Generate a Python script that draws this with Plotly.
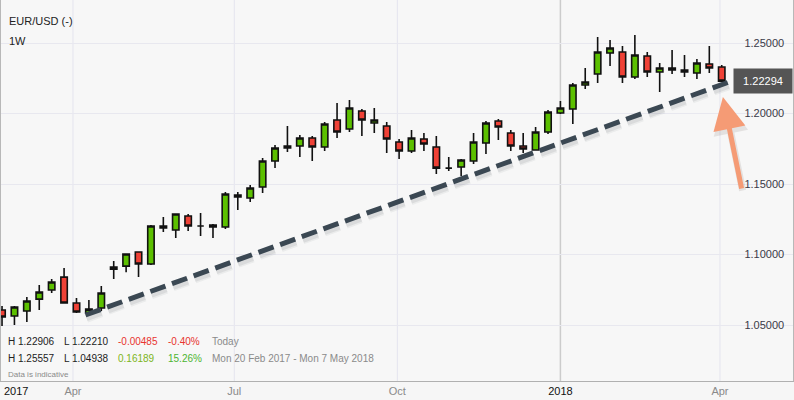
import pandas as pd
import plotly.graph_objects as go

# ---- data (weekly EUR/USD candles) ----
week_start = "2017-02-20"
n_weeks = 59
opens = [1.0606, 1.0564, 1.0599, 1.0684, 1.0748, 1.0840, 1.0656, 1.0585, 1.0621, 1.0911,
         1.0918, 1.1018, 1.0933, 1.1202, 1.1174, 1.1273, 1.1202, 1.1209, 1.1195, 1.1422,
         1.1401, 1.1479, 1.1663, 1.1755, 1.1770, 1.1826, 1.1762, 1.1954, 1.1890, 1.2018,
         1.1933, 1.1911, 1.1798, 1.1734, 1.1819, 1.1762, 1.1613, 1.1621, 1.1663, 1.1791,
         1.1947, 1.1862, 1.1770, 1.1741, 1.1869, 1.2004, 1.2032, 1.2202, 1.2280, 1.2429,
         1.2436, 1.2259, 1.2408, 1.2294, 1.2323, 1.2309, 1.2287, 1.2351, 1.2330]
highs = [1.0635, 1.0635, 1.0699, 1.0784, 1.0826, 1.0904, 1.0691, 1.0677, 1.0777, 1.0954,
         1.1004, 1.1018, 1.1209, 1.1266, 1.1287, 1.1287, 1.1294, 1.1216, 1.1443, 1.1443,
         1.1493, 1.1684, 1.1777, 1.1911, 1.1848, 1.1840, 1.1940, 1.2074, 1.2096, 1.2032,
         1.2039, 1.1940, 1.1819, 1.1883, 1.1862, 1.1840, 1.1691, 1.1677, 1.1862, 1.1947,
         1.1961, 1.1883, 1.1862, 1.1904, 1.2025, 1.2089, 1.2216, 1.2323, 1.2543, 1.2521,
         1.2479, 1.2557, 1.2436, 1.2358, 1.2450, 1.2415, 1.2387, 1.2479, 1.2344]
lows = [1.0493, 1.0500, 1.0521, 1.0606, 1.0727, 1.0656, 1.0585, 1.0578, 1.0599, 1.0826,
        1.0875, 1.0840, 1.0926, 1.1160, 1.1117, 1.1167, 1.1131, 1.1117, 1.1181, 1.1316,
        1.1372, 1.1436, 1.1613, 1.1727, 1.1691, 1.1663, 1.1734, 1.1826, 1.1869, 1.1840,
        1.1862, 1.1720, 1.1677, 1.1720, 1.1734, 1.1571, 1.1592, 1.1557, 1.1642, 1.1713,
        1.1812, 1.1734, 1.1720, 1.1741, 1.1855, 1.1996, 1.1926, 1.2174, 1.2216, 1.2337,
        1.2216, 1.2245, 1.2259, 1.2152, 1.2280, 1.2259, 1.2245, 1.2287, 1.2223]
closes = [1.0557, 1.0628, 1.0670, 1.0734, 1.0805, 1.0656, 1.0592, 1.0613, 1.0727, 1.0896,
          1.1004, 1.0933, 1.1202, 1.1188, 1.1287, 1.1202, 1.1202, 1.1195, 1.1429, 1.1408,
          1.1472, 1.1663, 1.1755, 1.1770, 1.1826, 1.1762, 1.1926, 1.1869, 1.2039, 1.1954,
          1.1954, 1.1819, 1.1734, 1.1826, 1.1784, 1.1613, 1.1613, 1.1670, 1.1798, 1.1933,
          1.1904, 1.1770, 1.1748, 1.1869, 1.2011, 1.2039, 1.2202, 1.2223, 1.2436, 1.2465,
          1.2259, 1.2415, 1.2294, 1.2323, 1.2309, 1.2294, 1.2358, 1.2323, 1.22294]

last_price = 1.22294
y_ticks = [1.05, 1.10, 1.15, 1.20, 1.25]
y_tick_labels = ["1.05000", "1.10000", "1.15000", "1.20000", "1.25000"]
x_tick_dates = ["2017-02-28", "2017-04-01", "2017-07-01", "2017-10-01", "2018-01-01", "2018-04-01"]
x_tick_labels = ["2017", "Apr", "Jul", "Oct", "2018", "Apr"]
x_tick_is_year = [True, False, False, False, True, False]
grid_dates = ["2017-04-01", "2017-07-01", "2017-10-01", "2018-04-01"]
year_line_date = "2018-01-01"

trend_dates = ["2017-04-08 02:00", "2018-04-07 14:00"]
trend_values = [1.0571, 1.2230]
arrow_head = ("2018-04-02 16:00", 1.2117)

x_range = ["2017-02-19 10:00", "2018-05-12 05:00"]
y_range = [1.0103, 1.2805]

info_rows = [
    ["H 1.22906", "L 1.22210", "-0.00485", "-0.40%", "Today"],
    ["H 1.25557", "L 1.04938", "0.16189", "15.26%", "Mon 20 Feb 2017 - Mon 7 May 2018"],
]
info_colors = [
    ["#222222", "#222222", "#e8342f", "#e8342f", "#8a8a8a"],
    ["#222222", "#222222", "#7db51a", "#4cb531", "#8a8a8a"],
]
info_x_px = [6, 62, 116, 166, 210]

dates = pd.date_range(week_start, periods=n_weeks, freq="7D")

FONT = "Liberation Sans, Arial, Helvetica, sans-serif"
W, H = 794, 400
ML, MR, MT, MB = 1, 1, 0, 19
PW = W - ML - MR

fig = go.Figure()

# trend line soft shadow + trend line
shadow_off = 0.0019
for w, a in [(10, 0.05), (7, 0.08)]:
    fig.add_trace(go.Scatter(
        x=pd.to_datetime(trend_dates) + pd.Timedelta(hours=12),
        y=[v - shadow_off for v in trend_values],
        mode="lines", line=dict(color=f"rgba(20,30,40,{a})", width=w, dash="16px,7px"),
        hoverinfo="skip", showlegend=False))
fig.add_trace(go.Scatter(
    x=trend_dates, y=trend_values, mode="lines",
    line=dict(color="#3b4853", width=5, dash="16px,7px"),
    hoverinfo="skip", showlegend=False))

fig.add_trace(go.Candlestick(
    x=dates, open=opens, high=highs, low=lows, close=closes,
    increasing=dict(fillcolor="#5cc000", line=dict(color="#111111", width=1.6)),
    decreasing=dict(fillcolor="#ef4136", line=dict(color="#111111", width=1.6)),
    showlegend=False, hoverinfo="skip"))

shapes = []
for d in grid_dates:
    shapes.append(dict(type="line", xref="x", yref="paper", x0=d, x1=d, y0=0, y1=1,
                       line=dict(color="#e4e4ee", width=1), layer="below"))
shapes.append(dict(type="line", xref="x", yref="paper", x0=year_line_date, x1=year_line_date,
                   y0=0, y1=1, line=dict(color="#cccccc", width=1.5), layer="below"))

ticktext = []
for lab, is_year in zip(x_tick_labels, x_tick_is_year):
    col = "#111111" if is_year else "#8a8a8a"
    ticktext.append(f'<span style="color:{col}">{lab}</span>')

annotations = []
annotations.append(dict(xref="paper", yref="paper", x=6 / W, y=1 - 21 / (H - MB), xanchor="left",
                        yanchor="middle", text="EUR/USD (-)", showarrow=False,
                        font=dict(family=FONT, size=11, color="#222222")))
annotations.append(dict(xref="paper", yref="paper", x=6 / W, y=1 - 41 / (H - MB), xanchor="left",
                        yanchor="middle", text="1W", showarrow=False,
                        font=dict(family=FONT, size=11, color="#222222")))
row_y = [341, 358]
for r, row in enumerate(info_rows):
    for c, txt in enumerate(row):
        annotations.append(dict(xref="paper", yref="paper", x=(info_x_px[c] - ML) / PW,
                                y=1 - row_y[r] / (H - MB), xanchor="left", yanchor="middle",
                                text=txt, showarrow=False,
                                font=dict(family=FONT, size=10, color=info_colors[r][c])))
annotations.append(dict(xref="paper", yref="paper", x=(6 - ML) / PW, y=1 - 374 / (H - MB),
                        xanchor="left", yanchor="middle", text="Data is indicative",
                        showarrow=False, font=dict(family=FONT, size=8, color="#8a8a8a")))
# last price label
annotations.append(dict(xref="paper", yref="y", x=1, y=last_price, xanchor="right",
                        yanchor="middle", text=f"{last_price:.5f}", showarrow=False,
                        bgcolor="#555555", width=54, height=20, borderpad=2, align="center",
                        font=dict(family=FONT, size=11, color="#ffffff")))
# arrow shadow + arrow
annotations.append(dict(xref="x", yref="y", x=arrow_head[0], y=arrow_head[1], text="",
                        showarrow=True, ax=19, ay=93, arrowcolor="rgba(60,40,30,0.10)",
                        arrowwidth=7, arrowhead=2, arrowsize=1.0, standoff=0, xshift=1, yshift=-2))
annotations.append(dict(xref="x", yref="y", x=arrow_head[0], y=arrow_head[1], text="",
                        showarrow=True, ax=19, ay=93, arrowcolor="#f59b75", arrowwidth=5,
                        arrowhead=2, arrowsize=1.3, standoff=0))

fig.update_layout(
    width=W, height=H, margin=dict(l=ML, r=MR, t=MT, b=MB),
    paper_bgcolor="#f6f6f6", plot_bgcolor="#f7f7f7",
    font=dict(family=FONT, size=11, color="#333333"),
    showlegend=False, shapes=shapes, annotations=annotations,
    boxgap=0.26,
    xaxis=dict(type="date", range=x_range, rangeslider=dict(visible=False),
               showgrid=False, zeroline=False, tickvals=x_tick_dates, ticktext=ticktext,
               ticks="", tickfont=dict(family=FONT, size=11, color="#8a8a8a"),
               showline=True, linecolor="#b0b0b0", linewidth=1, mirror=False),
    yaxis=dict(range=y_range, side="right", tickvals=y_ticks, ticktext=y_tick_labels,
               ticklabelposition="inside", ticks="", ticklabelstandoff=8,
               showgrid=True, gridcolor="#e8e8ef", gridwidth=1, zeroline=False,
               tickfont=dict(family=FONT, size=11, color="#3a3a48"),
               showline=True, linecolor="#b8b8b8", linewidth=1, mirror=True),
)

fig.write_html("out.html")
